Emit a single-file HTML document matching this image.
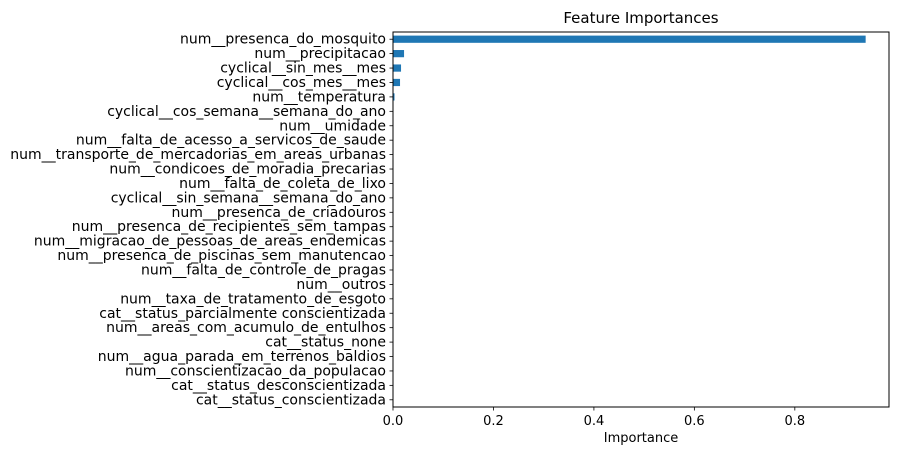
<!DOCTYPE html>
<html><head><meta charset="utf-8"><style>
body{margin:0;background:#fff;}
svg{display:block;font-family:"DejaVu Sans","Liberation Sans",sans-serif;}
</style></head><body>
<svg id="chart" width="899" height="455"></svg>
<script>
const features = ["num__presenca_do_mosquito","num__precipitacao","cyclical__sin_mes__mes","cyclical__cos_mes__mes","num__temperatura","cyclical__cos_semana__semana_do_ano","num__umidade","num__falta_de_acesso_a_servicos_de_saude","num__transporte_de_mercadorias_em_areas_urbanas","num__condicoes_de_moradia_precarias","num__falta_de_coleta_de_lixo","cyclical__sin_semana__semana_do_ano","num__presenca_de_criadouros","num__presenca_de_recipientes_sem_tampas","num__migracao_de_pessoas_de_areas_endemicas","num__presenca_de_piscinas_sem_manutencao","num__falta_de_controle_de_pragas","num__outros","num__taxa_de_tratamento_de_esgoto","cat__status_parcialmente conscientizada","num__areas_com_acumulo_de_entulhos","cat__status_none","num__agua_parada_em_terrenos_baldios","num__conscientizacao_da_populacao","cat__status_desconscientizada","cat__status_conscientizada"];
const importances = [0.941,0.022,0.016,0.014,0.003,0.0005,0.0004,0,0,0,0,0,0,0,0,0,0,0,0,0,0,0,0,0,0,0];
const xTicks = [0,0.2,0.4,0.6,0.8];
</script>
<script>
const NS="http://www.w3.org/2000/svg";
const svg=document.getElementById('chart');
const L=393,R=889,T=32,B=407,xMax=0.9875;
const N=features.length;
const sx=v=>L+v/xMax*(R-L);
const rowH=(B-T)/N;
const sy=i=>T+(i+0.5)*rowH;
function mk(tag,attrs,txt){const e=document.createElementNS(NS,tag);for(const k in attrs)e.setAttribute(k,attrs[k]);if(txt!==undefined)e.textContent=txt;svg.appendChild(e);return e;}
const title=mk('text',{x:(L+R)/2,y:23,'text-anchor':'middle','font-size':15,fill:'#000'},'Feature Importances');


features.forEach((f,i)=>{
  const b=mk('rect',{x:L,y:sy(i)-rowH*0.25,width:Math.max(0,sx(importances[i])-L),height:rowH*0.5,fill:'#1f77b4'});
  
  
  mk('line',{x1:L-3.5,x2:L,y1:sy(i),y2:sy(i),stroke:'#000','stroke-width':0.8});
  const t=mk('text',{x:L-7,y:sy(i)+4.5,'text-anchor':'end','font-size':14,fill:'#000'},f);
  
  
});
xTicks.forEach(v=>{
  mk('line',{x1:sx(v),x2:sx(v),y1:B,y2:B+3.5,stroke:'#000','stroke-width':0.8});
  const t=mk('text',{x:sx(v),y:B+18,'text-anchor':'middle','font-size':13,fill:'#000'},v.toFixed(1));
  
  
});
const fr=mk('rect',{x:L,y:T,width:R-L,height:B-T,fill:'none',stroke:'#000','stroke-width':1});


const xl=mk('text',{x:(L+R)/2,y:442,'text-anchor':'middle','font-size':13,fill:'#000'},'Importance');


</script>
</body></html>
